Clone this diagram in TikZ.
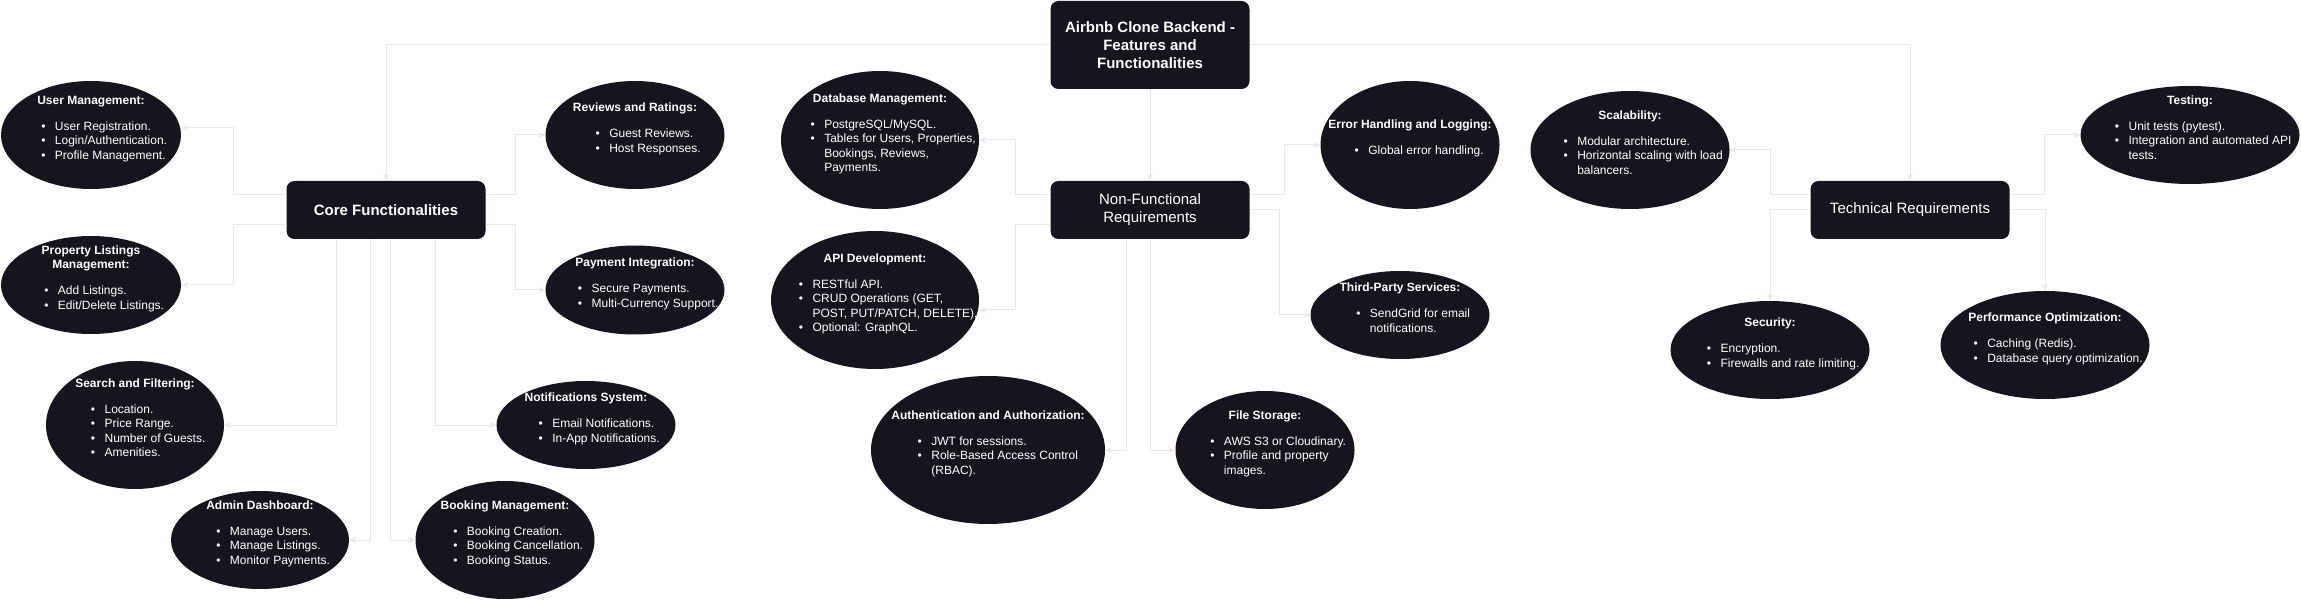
\documentclass[tikz,border=0pt]{standalone}
\usepackage{fontspec}
\setmainfont{Liberation Sans}
\usetikzlibrary{shapes.geometric,arrows.meta}
\definecolor{boxfill}{RGB}{24,20,29}
\definecolor{linkgray}{RGB}{232,232,232}
\newcommand{\htitle}[1]{\multicolumn{1}{@{}c@{}}{\bfseries #1}}
\newcommand{\bitem}[1]{\makebox[40pt][r]{\textbullet\hspace{9.5pt}}#1}
\newcommand{\bcont}[1]{\hspace*{40pt}#1}

\begin{document}
\begin{tikzpicture}[x=1pt,y=-1pt,
  hub/.style={rectangle,rounded corners=8pt,fill=boxfill,text=white,minimum width=199pt,minimum height=58pt,inner sep=0pt,align=center,font=\fontsize{15}{18}\selectfont},
  leaf/.style={ellipse,fill=boxfill,inner sep=0pt},
  txt/.style={text=white,inner sep=0pt,font=\fontsize{12}{14.5}\selectfont},
  link/.style={draw=linkgray,line width=1pt,-{Stealth[length=7pt,width=6pt]}}]
  \fill[white] (0,0) rectangle (2301,601);
  \useasboundingbox (0,0) rectangle (2301,601);

  \node[hub,minimum height=88pt,font=\fontsize{15}{18}\selectfont\bfseries] (root) at (1150,45) {Airbnb Clone Backend -\\Features and\\Functionalities};
  \node[hub,font=\fontsize{15}{18}\selectfont\bfseries] (core) at (386,210) {Core Functionalities};
  \node[hub] (nonfunc) at (1150,210) {Non-Functional\\Requirements};
  \node[hub] (tech) at (1910,210) {Technical Requirements};

  \node[leaf,minimum width=180pt,minimum height=108pt] (users) at (91,135) {};
  \node[leaf,minimum width=180pt,minimum height=98pt] (listings) at (91,285) {};
  \node[leaf,minimum width=178pt,minimum height=128pt] (search) at (135,425) {};
  \node[leaf,minimum width=178pt,minimum height=98pt] (admin) at (260,540) {};
  \node[leaf,minimum width=179pt,minimum height=118pt] (booking) at (505,540) {};
  \node[leaf,minimum width=179pt,minimum height=88pt] (notify) at (586,425) {};
  \node[leaf,minimum width=179pt,minimum height=89pt] (payment) at (635,290) {};
  \node[leaf,minimum width=179pt,minimum height=108pt] (reviews) at (635,135) {};
  \node[leaf,minimum width=198pt,minimum height=138pt] (database) at (880,140) {};
  \node[leaf,minimum width=208pt,minimum height=138pt] (api) at (875,300) {};
  \node[leaf,minimum width=234pt,minimum height=148pt] (auth) at (988,450) {};
  \node[leaf,minimum width=179pt,minimum height=118pt] (storage) at (1265,450) {};
  \node[leaf,minimum width=179pt,minimum height=88pt] (thirdparty) at (1400,315) {};
  \node[leaf,minimum width=179pt,minimum height=128pt] (errors) at (1410,145) {};
  \node[leaf,minimum width=199pt,minimum height=118pt] (scale) at (1630,150) {};
  \node[leaf,minimum width=199pt,minimum height=98pt] (security) at (1770,350) {};
  \node[leaf,minimum width=219pt,minimum height=98pt] (testing) at (2190,135) {};
  \node[leaf,minimum width=209pt,minimum height=108pt] (perf) at (2045,345) {};

  \node[txt] (users-t) at ([yshift=6pt]users.center) {\begin{tabular}{@{}l@{}}\htitle{User Management:}\\[11.5pt]\bitem{User Registration.}\\\bitem{Login/Authentication.}\\\bitem{Profile Management.}\end{tabular}};
  \node[txt] (listings-t) at ([yshift=6pt]listings.center) {\begin{tabular}{@{}l@{}}\htitle{Property Listings}\\\htitle{Management:}\\[11.5pt]\bitem{Add Listings.}\\\bitem{Edit/Delete Listings.}\end{tabular}};
  \node[txt] (search-t) at ([yshift=6pt]search.center) {\begin{tabular}{@{}l@{}}\htitle{Search and Filtering:}\\[11.5pt]\bitem{Location.}\\\bitem{Price Range.}\\\bitem{Number of Guests.}\\\bitem{Amenities.}\end{tabular}};
  \node[txt] (admin-t) at ([yshift=6pt]admin.center) {\begin{tabular}{@{}l@{}}\htitle{Admin Dashboard:}\\[11.5pt]\bitem{Manage Users.}\\\bitem{Manage Listings.}\\\bitem{Monitor Payments.}\end{tabular}};
  \node[txt] (booking-t) at ([yshift=6pt]booking.center) {\begin{tabular}{@{}l@{}}\htitle{Booking Management:}\\[11.5pt]\bitem{Booking Creation.}\\\bitem{Booking Cancellation.}\\\bitem{Booking Status.}\end{tabular}};
  \node[txt] (notify-t) at ([yshift=6pt]notify.center) {\begin{tabular}{@{}l@{}}\htitle{Notifications System:}\\[11.5pt]\bitem{Email Notifications.}\\\bitem{In-App Notifications.}\end{tabular}};
  \node[txt] (payment-t) at ([yshift=6pt]payment.center) {\begin{tabular}{@{}l@{}}\htitle{Payment Integration:}\\[11.5pt]\bitem{Secure Payments.}\\\bitem{Multi-Currency Support.}\end{tabular}};
  \node[txt] (reviews-t) at ([yshift=6pt]reviews.center) {\begin{tabular}{@{}l@{}}\htitle{Reviews and Ratings:}\\[11.5pt]\bitem{Guest Reviews.}\\\bitem{Host Responses.}\end{tabular}};
  \node[txt] (database-t) at ([yshift=6pt]database.center) {\begin{tabular}{@{}l@{}}\htitle{Database Management:}\\[11.5pt]\bitem{PostgreSQL/MySQL.}\\\bitem{Tables for Users, Properties,}\\\bcont{Bookings, Reviews,}\\\bcont{Payments.}\end{tabular}};
  \node[txt] (api-t) at ([yshift=6pt]api.center) {\begin{tabular}{@{}l@{}}\htitle{API Development:}\\[11.5pt]\bitem{RESTful API.}\\\bitem{CRUD Operations (GET,}\\\bcont{POST, PUT/PATCH, DELETE).}\\\bitem{Optional: GraphQL.}\end{tabular}};
  \node[txt] (auth-t) at ([yshift=6pt]auth.center) {\begin{tabular}{@{}l@{}}\htitle{Authentication and Authorization:}\\[11.5pt]\bitem{JWT for sessions.}\\\bitem{Role-Based Access Control}\\\bcont{(RBAC).}\end{tabular}};
  \node[txt] (storage-t) at ([yshift=6pt]storage.center) {\begin{tabular}{@{}l@{}}\htitle{File Storage:}\\[11.5pt]\bitem{AWS S3 or Cloudinary.}\\\bitem{Profile and property}\\\bcont{images.}\end{tabular}};
  \node[txt] (thirdparty-t) at ([yshift=6pt]thirdparty.center) {\begin{tabular}{@{}l@{}}\htitle{Third-Party Services:}\\[11.5pt]\bitem{SendGrid for email}\\\bcont{notifications.}\end{tabular}};
  \node[txt] (errors-t) at ([yshift=6pt]errors.center) {\begin{tabular}{@{}l@{}}\htitle{Error Handling and Logging:}\\[11.5pt]\bitem{Global error handling.}\end{tabular}};
  \node[txt] (scale-t) at ([yshift=6pt]scale.center) {\begin{tabular}{@{}l@{}}\htitle{Scalability:}\\[11.5pt]\bitem{Modular architecture.}\\\bitem{Horizontal scaling with load}\\\bcont{balancers.}\end{tabular}};
  \node[txt] (security-t) at ([yshift=6pt]security.center) {\begin{tabular}{@{}l@{}}\htitle{Security:}\\[11.5pt]\bitem{Encryption.}\\\bitem{Firewalls and rate limiting.}\end{tabular}};
  \node[txt] (testing-t) at ([yshift=6pt]testing.center) {\begin{tabular}{@{}l@{}}\htitle{Testing:}\\[11.5pt]\bitem{Unit tests (pytest).}\\\bitem{Integration and automated API}\\\bcont{tests.}\end{tabular}};
  \node[txt] (perf-t) at ([yshift=6pt]perf.center) {\begin{tabular}{@{}l@{}}\htitle{Performance Optimization:}\\[11.5pt]\bitem{Caching (Redis).}\\\bitem{Database query optimization.}\end{tabular}};

  \draw[link] (root.west) -| (core.north);
  \draw[link] (root.south) -- (nonfunc.north);
  \draw[link] (root.east) -| (tech.north);
  \draw[link] ([yshift=15pt]core.west) -- ++(-53,0) |- ([yshift=7pt]users.east);
  \draw[link] ([yshift=-15pt]core.west) -- ++(-53,0) |- (listings.east);
  \draw[link] ([yshift=15pt]core.east) -- ++(30,0) |- (reviews.west);
  \draw[link] ([yshift=-15pt]core.east) -- ++(30,0) |- (payment.west);
  \draw[link] ([xshift=-50pt]core.south) |- (search.east);
  \draw[link] ([xshift=-16pt]core.south) |- (admin.east);
  \draw[link] ([xshift=4pt]core.south) |- (booking.west);
  \draw[link] ([xshift=49pt]core.south) |- (notify.west);
  \draw[link] ([yshift=15pt]nonfunc.west) -- ++(-35,0) |- (database.east);
  \draw[link] ([yshift=-15pt]nonfunc.west) -- ++(-35,0) |- ([yshift=-10pt]api.east);
  \draw[link] ([xshift=-24pt]nonfunc.south) |- (auth.east);
  \draw[link] (nonfunc.south) |- (storage.west);
  \draw[link] ([yshift=15pt]nonfunc.east) -- ++(35,0) |- (errors.west);
  \draw[link] (nonfunc.east) -- ++(30,0) |- (thirdparty.west);
  \draw[link] ([yshift=15pt]tech.west) -- ++(-40,0) |- (scale.east);
  \draw[link] (tech.west) -| (security.north);
  \draw[link] ([yshift=15pt]tech.east) -- ++(35,0) |- (testing.west);
  \draw[link] (tech.east) -| (perf.north);
\end{tikzpicture}
\end{document}
